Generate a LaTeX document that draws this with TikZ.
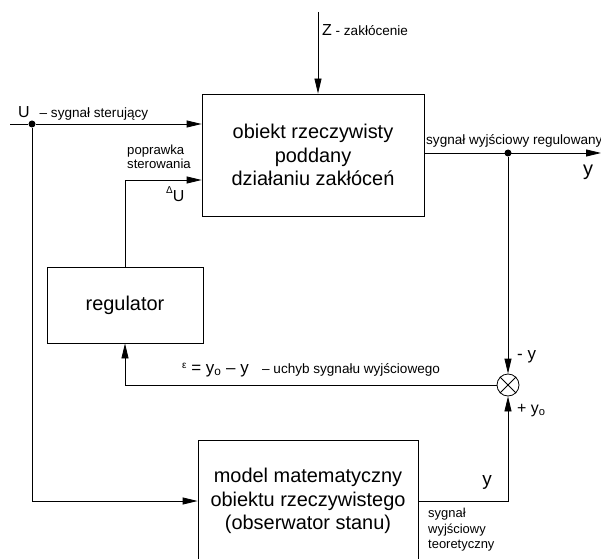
\documentclass[tikz,border=0pt]{standalone}
\usepackage{fontspec}
\setmainfont{Liberation Sans}
\usetikzlibrary{arrows.meta,positioning}

\begin{document}
\begin{tikzpicture}[x=1bp, y=-1bp,
  blok/.style={draw, line width=0.8bp, align=center, inner sep=0pt,
    font=\fontsize{20}{23.5}\selectfont},
  sig/.style={line width=0.8bp, -{Triangle[length=15bp,width=7bp]}},
  line/.style={line width=0.8bp},
  lbl/.style={inner sep=0pt, font=\fontsize{13.6}{14}\selectfont},
  sym/.style={inner sep=0pt, font=\fontsize{17}{19}\selectfont},
  dot/.style={circle, fill, inner sep=0pt, minimum size=7bp},
  sumnode/.style={circle, draw, line width=0.8bp, inner sep=0pt, minimum size=22bp}]

  \useasboundingbox (0,0) rectangle (601,559);

  % Define nodes

  % blocks
  \node[blok, minimum width=222bp, minimum height=122bp] (obj) at (313,155)
    {obiekt rzeczywisty\\poddany\\działaniu zakłóceń}; %
  \node[blok, minimum width=156bp, minimum height=76bp]  (reg) at (125,305) {regulator}; %
  \node[blok, minimum width=220bp, minimum height=122bp] (mod) at (308,501)
    {model matematyczny\\obiektu rzeczywistego\\(obserwator stanu)}; %

  % summing point
  \node[sumnode] (sum) at (508,385) {}; %
  \draw[line] (sum.north west) -- (sum.south east)
              (sum.north east) -- (sum.south west); %

  % branch points and free ends
  \node[dot] (ud) at (32,124) {}; %
  \node[dot] (yd) at (508,153) {}; %
  \coordinate (uin)  at (10,124); %
  \coordinate (zin)  at (318,12); %
  \coordinate (yout) at (601,153); %
  \coordinate (du)   at (125,180); %

  % Connections
  \draw[sig] (zin) -- (zin |- obj.north); %
  \draw[sig] (uin) -- (ud) -- (obj.west |- ud); %
  \draw[sig] (ud) |- (mod.west); %
  \draw[sig] (reg.north) -- (du) -- (obj.west |- du); %
  \draw[sig] (obj.east |- yd) -- (yout); %
  \draw[sig] (yd) -- (sum.north); %
  \draw[sig] (mod.east) -| (sum.south); %
  \draw[sig] (sum.west) -| (reg.south); %

  % Labels
  \node[lbl, anchor=base west] (zlab) at (322,36)
    {{\fontsize{16}{16}\selectfont Z} - zakłócenie}; %
  \node[lbl, anchor=base west] (ulab) at (18,118)
    {{\fontsize{16}{16}\selectfont U}\hspace{10bp}– sygnał sterujący}; %
  \node[lbl, anchor=north west, align=left, font=\fontsize{13.2}{13.5}\selectfont] (popr) at (127,145)
    {poprawka\\sterowania}; %
  \node[lbl, anchor=base west] (dulab) at (166,202)
    {{\fontsize{10}{10}\selectfont\raisebox{8bp}{Δ}}{\fontsize{16}{16}\selectfont U}}; %
  \node[lbl, anchor=base west] (yreg) at (426,145) {sygnał wyjściowy regulowany}; %
  \node[sym, anchor=base, font=\fontsize{20}{20}\selectfont] (ylab) at (588,176) {y}; %
  \node[sym, anchor=base west] (minus) at (517,359) {- y}; %
  \node[sym, anchor=base west, font=\fontsize{16}{16}\selectfont] (plus) at (517,413)
    {+ y\textsubscript{o}}; %
  \node[sym, anchor=base west] (eps) at (182,373)
    {{\fontsize{10}{10}\selectfont\raisebox{5bp}{ε}} = y\textsubscript{o} – y}; %
  \node[lbl, anchor=base west] (epst) at (262,373) {– uchyb sygnału wyjściowego}; %
  \node[sym, anchor=base, font=\fontsize{19}{19}\selectfont] (ymod) at (487,485) {y}; %
  \node[lbl, anchor=north west, align=left, font=\fontsize{13}{15.5}\selectfont]
    (yteo) at (428,508) {sygnał\\wyjściowy\\teoretyczny}; %

\end{tikzpicture}
\end{document}
